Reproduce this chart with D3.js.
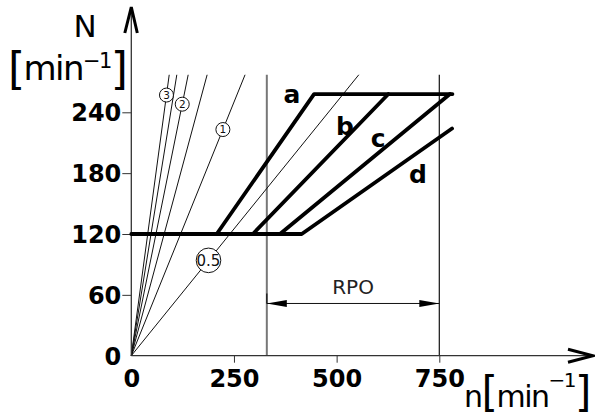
<!DOCTYPE html>
<html><head><meta charset="utf-8">
<script src="https://cdn.jsdelivr.net/npm/d3@7"></script>
<style>html,body{margin:0;padding:0;background:#fff;}svg{display:block;}</style>
</head><body>
<script>
// ---- data ----
const xTicks = [0, 250, 500, 750];
const yTicks = [0, 60, 120, 180, 240];
const curveA = [[208,120],[445,258],[782,258]];
const curveB = [[296,120],[626,258]];
const curveC = [[362,120],[776,258]];
const curveD = [[0,120],[415,120],[781,224]];
const curveLabels = ["a","b","c","d"];
const curveLabelAt = [[391,249],[520,217.5],[601,205.5],[698,170.5]];
const rayRatios = [0.5, 1, 1.5, 2, 2.5, 3];
const rayTopN = 277;
const rayLabels = ["3","2","1","0.5"];
const rayLabelRatio = [3, 2, 1, 0.5];
const rayLabelN = [257, 248, 223, 94];
const rpoRange = [330, 750];
const rpoLabel = "RPO";

const W = 595, H = 417;
const svg = d3.select("body").append("svg").attr("width", W).attr("height", H);
const x = d3.scaleLinear().domain([0, 750]).range([131.3, 439.3]);
const y = d3.scaleLinear().domain([0, 240]).range([355.7, 112.3]);
const F = "'DejaVu Sans', sans-serif";

// vertical reference lines
svg.append("line").attr("x1", x(rpoRange[0])).attr("x2", x(rpoRange[0]))
  .attr("y1", y(0)).attr("y2", y(rayTopN)).attr("stroke", "#777").attr("stroke-width", 2);
svg.append("line").attr("x1", x(rpoRange[1])).attr("x2", x(rpoRange[1]))
  .attr("y1", y(0)).attr("y2", y(rayTopN)).attr("stroke", "#111").attr("stroke-width", 1.2);

// rays
const line = d3.line().x(d => x(d[0])).y(d => y(d[1]));
svg.selectAll(".ray").data(rayRatios).join("path").attr("class", "ray")
  .attr("d", r => line([[0,0],[rayTopN / r, rayTopN]]))
  .attr("fill", "none").attr("stroke", "#111").attr("stroke-width", 1);

// axes
const xAxis = d3.axisBottom(x).tickValues(xTicks).tickSize(7).tickFormat(d3.format("d"));
const gx = svg.append("g").attr("transform", `translate(0,${y(0)})`).call(xAxis);
gx.select(".domain").remove();
gx.selectAll(".tick line").attr("stroke", "#333").filter(d => d === 0).remove();
gx.selectAll(".tick text").attr("font-family", F).attr("font-weight", "bold")
  .attr("font-size", 24).attr("fill", "#000").attr("dy", "0").attr("y", 31);

const yAxis = d3.axisLeft(y).tickValues(yTicks).tickSize(9).tickFormat(d3.format("d"));
const gy = svg.append("g").attr("transform", `translate(${x(0)},0)`).call(yAxis);
gy.select(".domain").remove();
gy.selectAll(".tick line").attr("stroke", "#333").filter(d => d === 0).remove();
gy.selectAll(".tick text").attr("font-family", F).attr("font-weight", "bold")
  .attr("font-size", 24).attr("fill", "#000").attr("x", -10).attr("dy", "0.36em");

svg.append("line").attr("x1", x(0)).attr("x2", 593).attr("y1", y(0)).attr("y2", y(0))
  .attr("stroke", "#333").attr("stroke-width", 1.3);
svg.append("line").attr("x1", x(0)).attr("x2", x(0)).attr("y1", y(0)).attr("y2", 8)
  .attr("stroke", "#333").attr("stroke-width", 1.3);
// arrow chevrons
svg.append("path").attr("d", `M${x(0)-6.5},33 L${x(0)},7 L${x(0)+6},33`)
  .attr("fill", "none").attr("stroke", "#000").attr("stroke-width", 3);
svg.append("path").attr("d", `M568,${y(0)-6.5} L593,${y(0)} L568,${y(0)+6.5}`)
  .attr("fill", "none").attr("stroke", "#000").attr("stroke-width", 3);

// thick curves
[curveD, curveA, curveB, curveC].forEach(c => {
  svg.append("path").attr("d", line(c)).attr("fill", "none").attr("stroke", "#000")
    .attr("stroke-width", 3.8).attr("stroke-linejoin", "round").attr("stroke-linecap", "round");
});

// curve labels
svg.selectAll(".cl").data(curveLabels).join("text").attr("class", "cl")
  .attr("x", (d, i) => x(curveLabelAt[i][0])).attr("y", (d, i) => y(curveLabelAt[i][1]))
  .attr("text-anchor", "middle").attr("font-family", F).attr("font-weight", "bold")
  .attr("font-size", 25).text(d => d);

// ray labels with circles
rayLabels.forEach((lab, i) => {
  const n = rayLabelN[i] / rayLabelRatio[i];
  const cx = x(n), cy = y(rayLabelN[i]);
  const big = lab.length > 1;
  svg.append("circle").attr("cx", cx).attr("cy", cy).attr("r", big ? 12.3 : 7)
    .attr("fill", "#fff").attr("stroke", "#111").attr("stroke-width", 1);
  svg.append("text").attr("x", cx).attr("y", cy).attr("dy", "0.36em")
    .attr("text-anchor", "middle").attr("font-family", F)
    .attr("font-size", big ? 15 : 10.5).attr("fill", "#111").text(lab);
});

// RPO dimension arrow
const ay = y(51.5);
svg.append("line").attr("x1", x(rpoRange[0])).attr("x2", x(rpoRange[1]))
  .attr("y1", ay).attr("y2", ay).attr("stroke", "#111").attr("stroke-width", 1);
svg.append("line").attr("x1", x(rpoRange[0])).attr("x2", x(rpoRange[0]))
  .attr("y1", ay - 10).attr("y2", ay).attr("stroke", "#111").attr("stroke-width", 1.2);
svg.append("path").attr("d", `M${x(rpoRange[0])},${ay} l20,-3.5 l0,7 z`).attr("fill", "#000");
svg.append("path").attr("d", `M${x(rpoRange[1])},${ay} l-20,-3.5 l0,7 z`).attr("fill", "#000");
svg.append("text").attr("x", x((rpoRange[0] + rpoRange[1]) / 2)).attr("y", y(61))
  .attr("text-anchor", "middle").attr("font-family", F).attr("font-size", 20)
  .attr("fill", "#222").text(rpoLabel);

// axis titles: flowing tspans [text, fontSize, dy]
function title(x0, y0, ls, parts) {
  const tx = svg.append("text").attr("x", x0).attr("y", y0).attr("font-family", F)
    .attr("fill", "#000").attr("letter-spacing", ls);
  parts.forEach(p => tx.append("tspan").attr("font-size", p[1]).attr("dy", p[2]).text(p[0]));
}
svg.append("text").attr("x", 85).attr("y", 37).attr("text-anchor", "middle")
  .attr("font-family", F).attr("font-size", 31).text("N");
title(8, 80, -1.6, [["[", 44, 4], ["min", 34, -4], ["\u22121", 21, -12], ["]", 44, 16]]);
title(464, 407, -1.5, [["n", 30, 0], ["[", 42, 0], ["min", 30, 0], ["\u22121", 20, -20], ["]", 42, 20]]);
</script>
</body></html>
